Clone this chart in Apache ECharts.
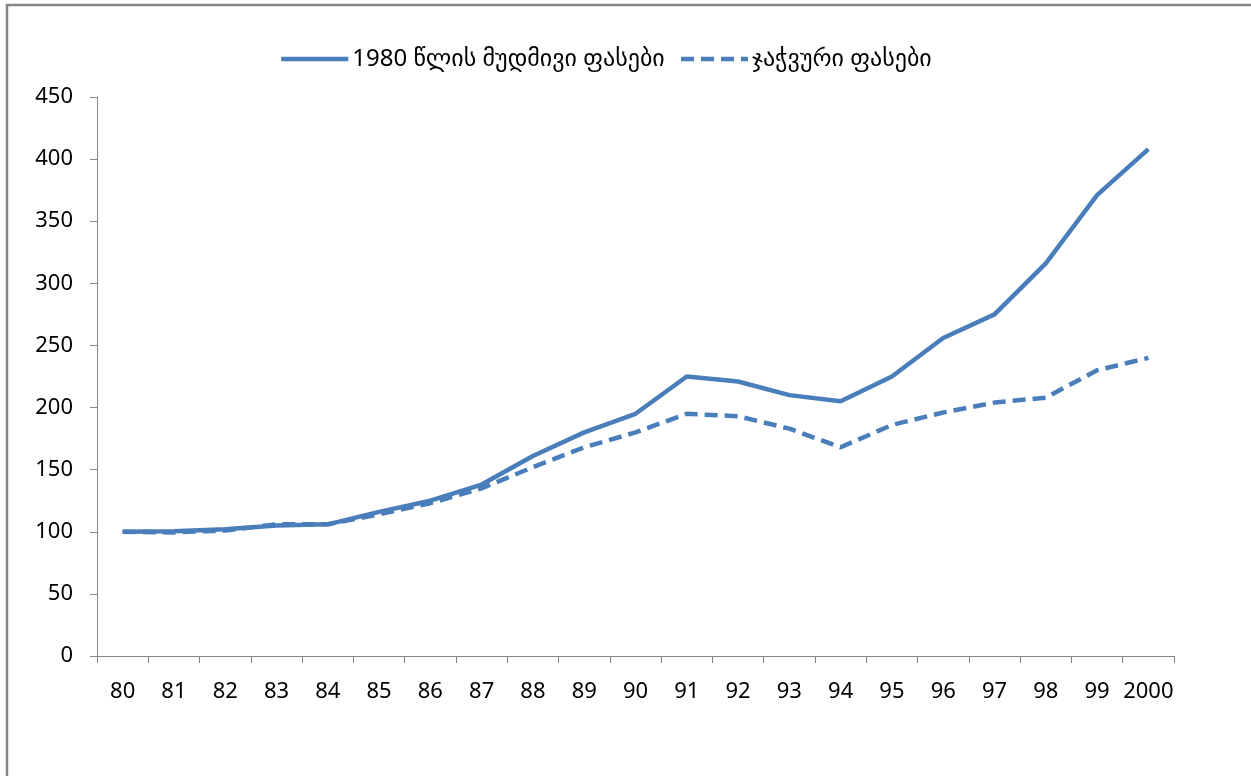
<!DOCTYPE html>
<html>
<head>
<meta charset="utf-8">
<script src="https://cdn.jsdelivr.net/npm/echarts@6/dist/echarts.min.js"></script>
<style>
  html, body { margin: 0; padding: 0; background: #fff; }
  #chart { width: 1251px; height: 776px; }
</style>
</head>
<body>
<div id="chart"></div>
<script>
var years = ["80", "81", "82", "83", "84", "85", "86", "87", "88", "89", "90",
  "91", "92", "93", "94", "95", "96", "97", "98", "99", "2000"];
// 1980 წლის მუდმივი ფასები
var constPrices = [100, 100.5, 102, 105, 106, 116, 125, 138, 161, 180, 195,
  225, 221, 210, 205, 225, 256, 275, 316, 371, 408];
// ჯაჭვური ფასები
var chainPrices = [100, 99.5, 101, 106, 106, 114, 123, 135, 152, 168, 180,
  195, 193, 183, 168, 186, 196, 204, 208, 230, 240];
var seriesNames = ["1980 წლის მუდმივი ფასები", "ჯაჭვური ფასები"];

var blue = "#4a7ebb";
var axisGray = "#868686";
var fontFam = "'Noto Sans', 'DejaVu Sans', sans-serif";

var chart = echarts.init(document.getElementById("chart"));
chart.setOption({
  backgroundColor: "#fff",
  animation: false,
  graphic: [{
    type: "rect",
    shape: { x: 7, y: 5, width: 1400, height: 1000 },
    style: { fill: "none", stroke: axisGray, lineWidth: 2.5 },
    silent: true
  }],
  legend: {
    left: 274,
    top: 42,
    itemWidth: 67,
    itemHeight: 0.5,
    itemGap: 14,
    lineStyle: { width: 4.5 },
    textStyle: { fontFamily: fontFam, fontSize: 24, color: "#000", padding: [0, 0, 0, -1] },
    data: seriesNames
  },
  grid: { left: 97, right: 77, top: 97, bottom: 120, containLabel: false },
  xAxis: {
    type: "category",
    data: years,
    boundaryGap: true,
    axisLine: { lineStyle: { color: axisGray, width: 1 } },
    axisTick: { show: true, interval: 0, length: 7, lineStyle: { color: axisGray } },
    axisLabel: { interval: 0, margin: 25, color: "#000", fontFamily: fontFam, fontSize: 22 }
  },
  yAxis: {
    type: "value",
    min: 0,
    max: 450,
    interval: 50,
    axisLine: { show: true, lineStyle: { color: axisGray, width: 1 } },
    axisTick: { show: true, length: 7, lineStyle: { color: axisGray } },
    splitLine: { show: false },
    axisLabel: { margin: 24, color: "#000", fontFamily: fontFam, fontSize: 22 }
  },
  series: [{
    name: seriesNames[0],
    type: "line",
    data: constPrices,
    symbol: "none",
    color: blue,
    lineStyle: { color: blue, width: 4.5, type: "solid" }
  }, {
    name: seriesNames[1],
    type: "line",
    data: chainPrices,
    symbol: "none",
    color: blue,
    lineStyle: { color: blue, width: 4.5, type: [13, 7] }
  }]
});
</script>
</body>
</html>
